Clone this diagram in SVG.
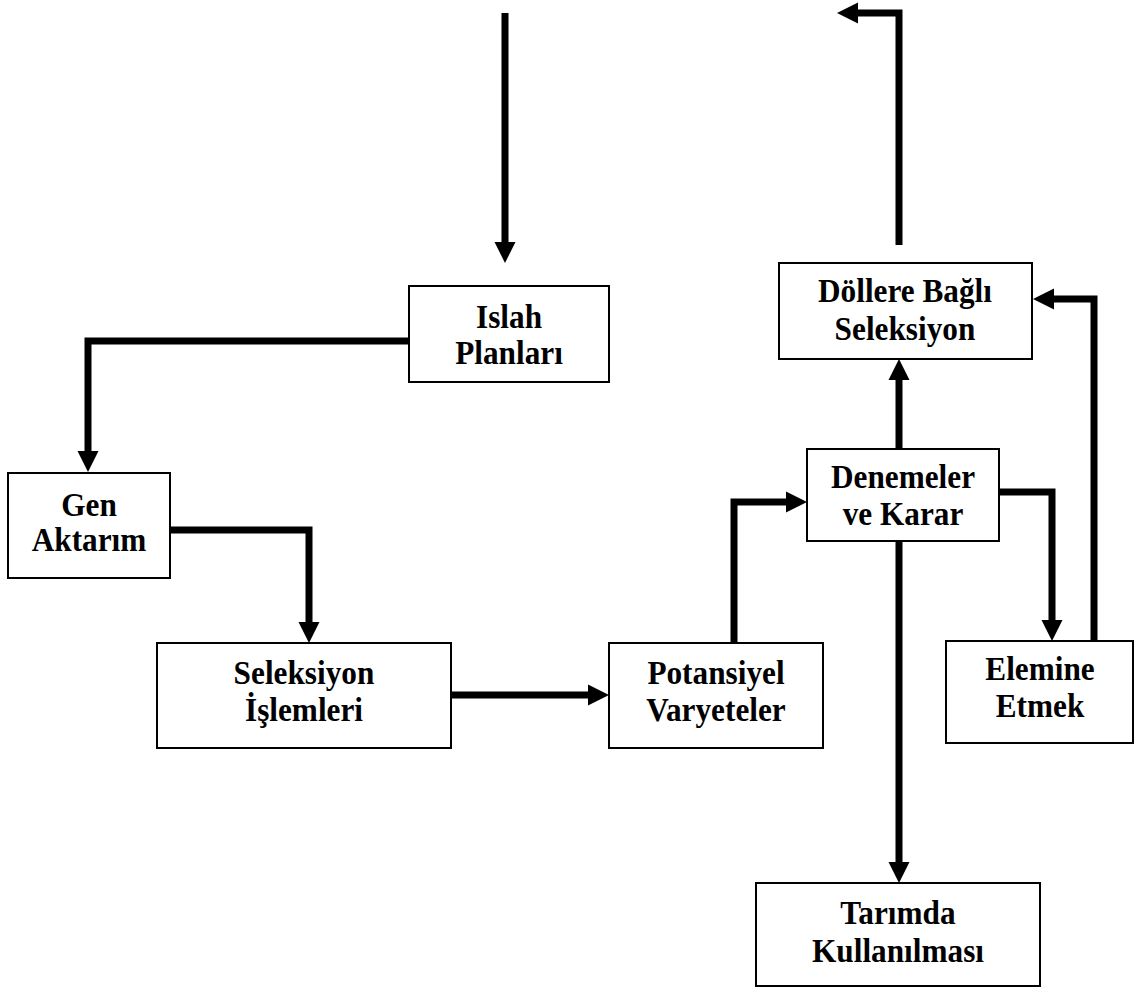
<svg xmlns="http://www.w3.org/2000/svg" width="1134" height="988" viewBox="0 0 1134 988">
<style>
.box{fill:#fff;stroke:#000;stroke-width:2}
.t{font-family:"Liberation Serif","Times New Roman",serif;font-weight:bold;font-size:34px;text-anchor:middle;fill:#000}
.c{fill:none;stroke:#000;stroke-width:7;stroke-linejoin:miter}
</style>
<defs>
<marker id="ah" markerUnits="userSpaceOnUse" markerWidth="22" markerHeight="22" refX="0" refY="10.5" orient="auto" overflow="visible">
<path d="M0,0 L21,10.5 L0,21 Z" fill="#000"/>
</marker>
</defs>
<rect width="1134" height="988" fill="#fff"/>
<g id="connectors">
<path class="c" d="M505,13 V242" marker-end="url(#ah)"/>
<path class="c" d="M419,341 H88 V451" marker-end="url(#ah)"/>
<path class="c" d="M170,530 H309 V622" marker-end="url(#ah)"/>
<path class="c" d="M451,695 H588" marker-end="url(#ah)"/>
<path class="c" d="M734,643 V502 H786" marker-end="url(#ah)"/>
<path class="c" d="M899,449 V380" marker-end="url(#ah)"/>
<path class="c" d="M899,245 V13 H858" marker-end="url(#ah)"/>
<path class="c" d="M999,492 H1052 V620" marker-end="url(#ah)"/>
<path class="c" d="M1094,641 V299 H1054" marker-end="url(#ah)"/>
<path class="c" d="M899,541 V862" marker-end="url(#ah)"/>
</g>
<g id="islah">
<rect class="box" x="409" y="286" width="200" height="96"/>
<text class="t" transform="translate(509,328) scale(0.92,1)">Islah</text>
<text class="t" transform="translate(509,364) scale(0.92,1)">Planları</text>
</g>
<g id="gen">
<rect class="box" x="8" y="473" width="162" height="105"/>
<text class="t" transform="translate(89,516) scale(0.92,1)">Gen</text>
<text class="t" transform="translate(89,551) scale(0.92,1)">Aktarım</text>
</g>
<g id="seleksiyon">
<rect class="box" x="157" y="643" width="294" height="105"/>
<text class="t" transform="translate(304,684) scale(0.92,1)">Seleksiyon</text>
<text class="t" transform="translate(304,721) scale(0.92,1)">İşlemleri</text>
</g>
<g id="potansiyel">
<rect class="box" x="609" y="643" width="214" height="105"/>
<text class="t" transform="translate(716,684) scale(0.92,1)">Potansiyel</text>
<text class="t" transform="translate(716,721) scale(0.92,1)">Varyeteler</text>
</g>
<g id="denemeler">
<rect class="box" x="807" y="449" width="192" height="92"/>
<text class="t" transform="translate(903,488) scale(0.92,1)">Denemeler</text>
<text class="t" transform="translate(903,525) scale(0.92,1)">ve Karar</text>
</g>
<g id="dollere">
<rect class="box" x="779" y="263" width="253" height="96"/>
<text class="t" transform="translate(905,302) scale(0.92,1)">Döllere Bağlı</text>
<text class="t" transform="translate(905,340) scale(0.92,1)">Seleksiyon</text>
</g>
<g id="elemine">
<rect class="box" x="946" y="641" width="187" height="102"/>
<text class="t" transform="translate(1040,680) scale(0.92,1)">Elemine</text>
<text class="t" transform="translate(1040,717) scale(0.92,1)">Etmek</text>
</g>
<g id="tarimda">
<rect class="box" x="756" y="883" width="284" height="103"/>
<text class="t" transform="translate(898,924) scale(0.92,1)">Tarımda</text>
<text class="t" transform="translate(898,962) scale(0.92,1)">Kullanılması</text>
</g>
</svg>
